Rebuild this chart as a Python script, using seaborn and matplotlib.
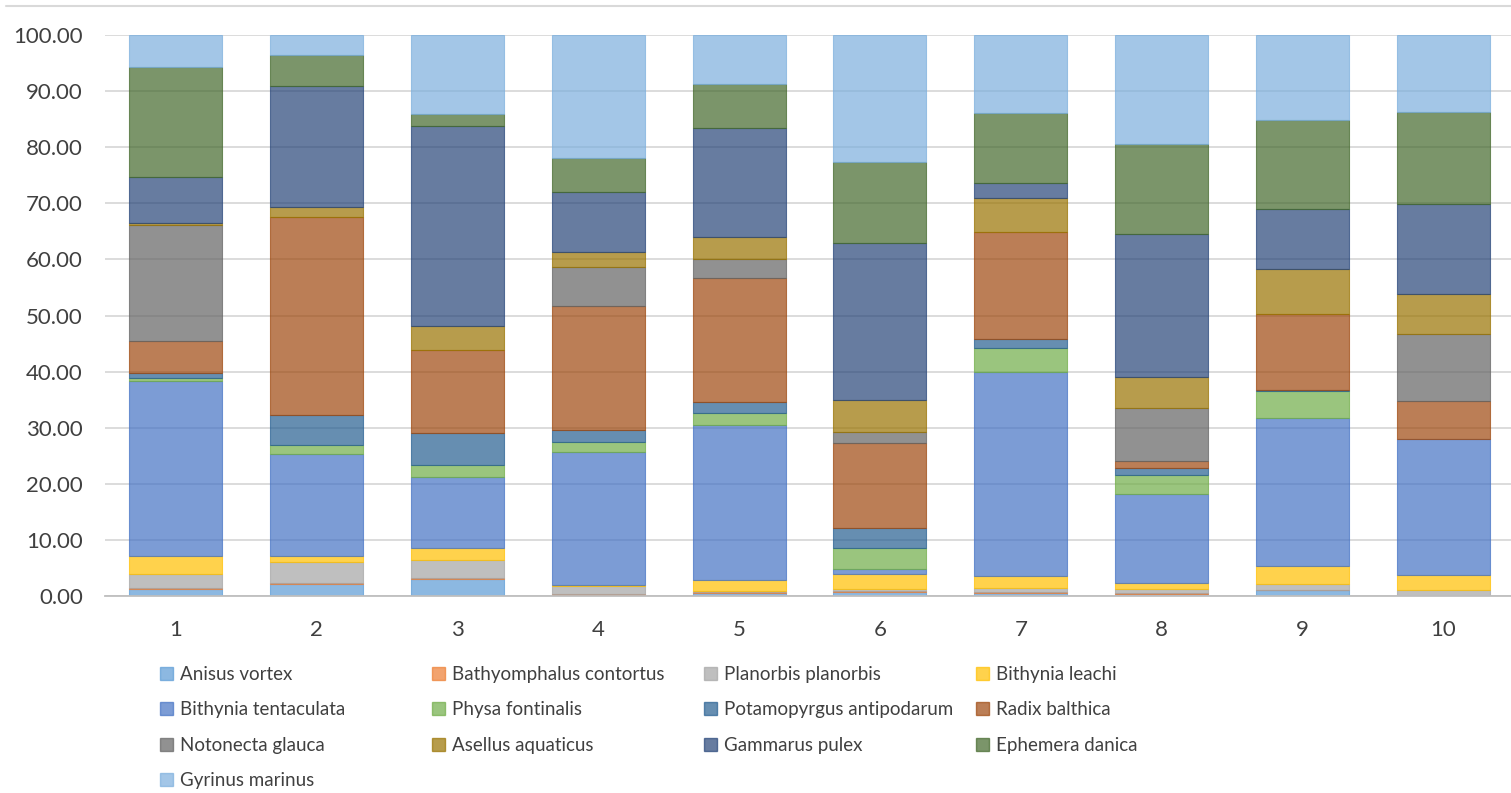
import matplotlib
matplotlib.use("Agg")
import matplotlib.pyplot as plt
from matplotlib.patches import Patch
from matplotlib.lines import Line2D
import numpy as np
import pandas as pd
import seaborn as sns

# Sampling sites (x categories)
sites = ["1", "2", "3", "4", "5", "6", "7", "8", "9", "10"]

# Relative abundance (%) of each taxon per site, bottom to top of the stack
anisus_vortex = [1.2, 2.1, 3.0, 0.1, 0.5, 0.8, 0.6, 0.3, 1.0, 0.0]
bathyomphalus_contortus = [0.2, 0.2, 0.2, 0.2, 0.3, 0.1, 0.1, 0.2, 0.1, 0.0]
planorbis_planorbis = [2.6, 3.7, 3.3, 1.4, 0.1, 0.3, 0.7, 0.7, 1.0, 1.0]
bithynia_leachi = [3.2, 1.2, 2.0, 0.2, 1.9, 2.8, 2.1, 1.1, 3.2, 2.7]
bithynia_tentaculata = [31.2, 18.2, 12.7, 23.8, 27.6, 0.8, 36.4, 15.8, 26.5, 24.2]
physa_fontinalis = [0.4, 1.6, 2.1, 1.7, 2.3, 3.7, 4.3, 3.4, 4.8, 0.0]
potamopyrgus_antipodarum = [0.9, 5.3, 5.7, 2.2, 1.8, 3.7, 1.6, 1.3, 0.1, 0.0]
radix_balthica = [5.7, 35.2, 14.9, 22.1, 22.1, 15.1, 19.0, 1.3, 13.6, 6.8]
notonecta_glauca = [20.8, 0.0, 0.0, 6.9, 3.4, 2.0, 0.0, 9.4, 0.0, 12.0]
asellus_aquaticus = [0.2, 1.9, 4.2, 2.8, 4.0, 5.7, 6.1, 5.5, 7.9, 7.1]
gammarus_pulex = [8.3, 21.5, 35.7, 10.7, 19.5, 27.9, 2.8, 25.5, 10.7, 16.0]
ephemera_danica = [19.6, 5.5, 2.1, 5.9, 7.8, 14.5, 12.4, 16.1, 16.0, 16.5]
gyrinus_marinus = [5.7, 3.6, 14.1, 22.0, 8.7, 22.6, 13.9, 19.4, 15.1, 13.7]

species = [
    "Anisus vortex", "Bathyomphalus contortus", "Planorbis planorbis",
    "Bithynia leachi", "Bithynia tentaculata", "Physa fontinalis",
    "Potamopyrgus antipodarum", "Radix balthica", "Notonecta glauca",
    "Asellus aquaticus", "Gammarus pulex", "Ephemera danica", "Gyrinus marinus",
]
series = [
    anisus_vortex, bathyomphalus_contortus, planorbis_planorbis,
    bithynia_leachi, bithynia_tentaculata, physa_fontinalis,
    potamopyrgus_antipodarum, radix_balthica, notonecta_glauca,
    asellus_aquaticus, gammarus_pulex, ephemera_danica, gyrinus_marinus,
]
colors = [
    "#5B9BD5", "#ED7D31", "#A5A5A5", "#FFC000", "#4472C4", "#70AD47",
    "#255E91", "#9E480E", "#636363", "#997300", "#264478", "#43682B",
    "#7CAFDD",
]
ALPHA = 0.7

sns.set_theme(style="white")
plt.rcParams["font.family"] = ["Lato", "DejaVu Sans"]

W, H = 1511, 793
fig = plt.figure(figsize=(W / 100, H / 100), dpi=100)
ax_left, ax_right, ax_top, ax_bottom = 105, 1514, 35, 596
ax = fig.add_axes([ax_left / W, 1 - ax_bottom / H,
                   (ax_right - ax_left) / W, (ax_bottom - ax_top) / H])

df = pd.DataFrame({name: vals for name, vals in zip(species, series)})
df.insert(0, "site", sites)

bottom = np.zeros(len(sites))
for name, col in zip(species, colors):
    sns.barplot(data=df, x="site", y=name, order=sites, bottom=bottom,
                color=col, saturation=1, width=0.66, alpha=ALPHA,
                edgecolor=col, linewidth=0.8, errorbar=None, ax=ax)
    bottom = bottom + df[name].to_numpy()

# hide empty segments so they do not leave a line at their boundary
for p in ax.patches:
    if p.get_height() == 0:
        p.set_visible(False)

ax.set_xlim(-0.5, 9.5)
ax.set_ylim(0, 100)
ax.set_yticks(np.arange(0, 101, 10))
ax.yaxis.set_major_formatter(matplotlib.ticker.FormatStrFormatter("%.2f"))
ax.set_xlabel("")
ax.set_ylabel("")
ax.yaxis.grid(True, color="#D9D9D9", linewidth=1.3)
ax.xaxis.grid(False)
ax.set_axisbelow(True)
for s in ["top", "left", "right"]:
    ax.spines[s].set_visible(False)
ax.spines["bottom"].set_color("#BFBFBF")
ax.spines["bottom"].set_linewidth(1.3)
ax.tick_params(axis="both", length=0, labelsize=16, labelcolor="#404040")
ax.tick_params(axis="y", pad=16)
ax.tick_params(axis="x", pad=17)

# chart-area border line along the top
fig.add_artist(Line2D([6 / W, 1.0], [1 - 6 / H, 1 - 6 / H],
                      transform=fig.transFigure, color="#D9D9D9", lw=1.5))

# legend laid out row by row in four evenly spaced columns
col_x = [160, 432, 704, 976]
for c in range(4):
    idx = list(range(c, len(species), 4))
    handles = [Patch(facecolor=colors[i], edgecolor=colors[i], alpha=ALPHA)
               for i in idx]
    labels = [species[i] for i in idx]
    fig.legend(handles, labels, loc="upper left",
               bbox_to_anchor=(col_x[c] / W, 1 - 666 / H),
               frameon=False, fontsize=13.5, labelcolor="#404040",
               handlelength=0.7, handleheight=0.7, handletextpad=0.37,
               borderpad=0, borderaxespad=0, labelspacing=0.98)

fig.savefig("out.png", dpi=100)
